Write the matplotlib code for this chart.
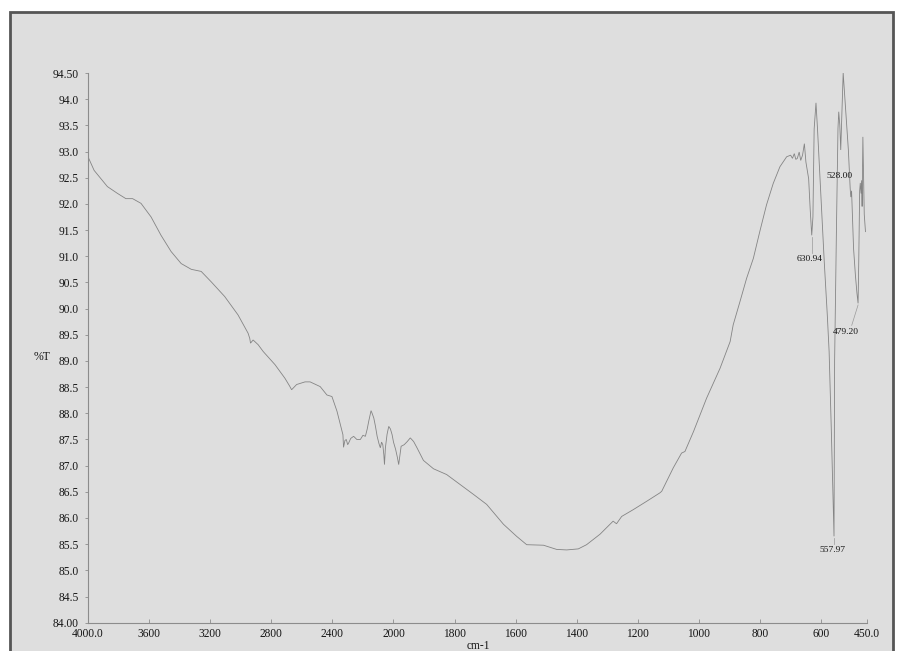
import numpy as np
import matplotlib
matplotlib.use("Agg")
import matplotlib.pyplot as plt
from matplotlib.patches import Rectangle
from matplotlib.ticker import FixedLocator, FixedFormatter

# FTIR transmission spectrum (wavenumber in cm-1, %T)
wavenumber = [
    4000, 3960, 3873, 3807, 3752, 3708, 3653, 3587, 3522, 3456, 3390, 3324,
    3259, 3193, 3105, 3018, 2952, 2941, 2936, 2919, 2886, 2853, 2776, 2711,
    2680, 2667, 2650, 2634, 2579, 2546, 2480, 2436, 2403, 2370, 2331, 2327,
    2318, 2309, 2300, 2294, 2280, 2261, 2240, 2217, 2200, 2184, 2172, 2162,
    2152, 2147, 2140, 2129, 2118, 2107, 2095, 2086, 2078, 2070, 2063, 2059,
    2053, 2042, 2031, 2020, 2009, 2000, 1993, 1987, 1983, 1979, 1975, 1965,
    1955, 1945, 1934, 1923, 1902, 1869, 1826, 1782, 1738, 1695, 1640, 1597,
    1564, 1509, 1466, 1433, 1395, 1368, 1324, 1281, 1270, 1253, 1215, 1171,
    1128, 1122, 1084, 1057, 1046, 1018, 975, 931, 898, 888, 866, 844, 822,
    801, 779, 757, 735, 713, 700, 694, 688, 683, 678, 672, 667, 661, 655,
    650, 641, 636, 630.94, 627, 623, 617, 612, 601, 590, 580, 574, 567, 562,
    557.97, 556, 550, 545, 542.5, 539, 536, 532, 528, 523, 517, 511, 505,
    503, 500.5, 494, 488, 483, 479.2, 477, 474, 472, 469.5, 467.5, 466,
    463.5, 461.5, 459, 455,
]
transmittance = [
    92.90, 92.64, 92.33, 92.20, 92.10, 92.10, 92.01, 91.75, 91.40, 91.09, 90.86, 90.75,
    90.71, 90.51, 90.23, 89.88, 89.53, 89.43, 89.34, 89.40, 89.31, 89.18, 88.93, 88.67,
    88.52, 88.45, 88.50, 88.55, 88.60, 88.60, 88.51, 88.35, 88.32, 88.04, 87.59, 87.35,
    87.48, 87.50, 87.40, 87.43, 87.52, 87.56, 87.50, 87.50, 87.58, 87.56, 87.70, 87.85,
    87.98, 88.05, 88.00, 87.91, 87.75, 87.56, 87.42, 87.34, 87.45, 87.40, 87.20, 87.02,
    87.34, 87.60, 87.75, 87.70, 87.59, 87.45, 87.31, 87.15, 87.02, 87.20, 87.37, 87.40,
    87.46, 87.53, 87.46, 87.34, 87.10, 86.94, 86.83, 86.64, 86.45, 86.26, 85.88, 85.65,
    85.49, 85.48, 85.40, 85.39, 85.41, 85.49, 85.69, 85.94, 85.89, 86.03, 86.16, 86.32,
    86.48, 86.51, 86.96, 87.24, 87.27, 87.65, 88.29, 88.86, 89.37, 89.69, 90.13, 90.58, 90.96,
    91.47, 91.98, 92.39, 92.71, 92.90, 92.93, 92.87, 92.96, 92.85, 92.87, 92.99, 92.83, 92.93, 93.15,
    92.80, 92.48, 91.90, 91.40, 91.75, 93.43, 93.93, 93.43, 92.17, 90.90, 89.88, 89.18, 87.72, 86.60,
    85.65, 89.00, 91.53, 93.44, 93.76, 93.50, 93.03, 93.80, 94.50, 94.07, 93.56, 93.03, 92.29,
    92.13, 92.25, 91.15, 90.64, 90.30, 90.10, 90.90, 92.25, 92.40, 92.20, 92.45, 91.95,
    93.28, 92.60, 91.80, 91.47,
]

x_ticks = [4000, 3600, 3200, 2800, 2400, 2000, 1800, 1600, 1400, 1200, 1000, 800, 600, 450]
x_tick_labels = ["4000.0", "3600", "3200", "2800", "2400", "2000", "1800", "1600",
                 "1400", "1200", "1000", "800", "600", "450.0"]
y_ticks = [94.5, 94.0, 93.5, 93.0, 92.5, 92.0, 91.5, 91.0, 90.5, 90.0, 89.5, 89.0,
           88.5, 88.0, 87.5, 87.0, 86.5, 86.0, 85.5, 85.0, 84.5, 84.0]
y_tick_labels = ["94.50", "94.0", "93.5", "93.0", "92.5", "92.0", "91.5", "91.0",
                 "90.5", "90.0", "89.5", "89.0", "88.5", "88.0", "87.5", "87.0",
                 "86.5", "86.0", "85.5", "85.0", "84.5", "84.00"]

peak_positions = [630.94, 557.97, 528.00, 479.20]
peak_labels = ["630.94", "557.97", "528.00", "479.20"]
# text anchor for each peak label (wavenumber, %T)
peak_text_pos = [(638, 90.94), (561.5, 85.38), (539, 92.54), (519, 89.56)]
peak_leaders = [True, True, False, True]

BG = "#dedede"
LINE = "#848484"
TXT = "#161616"
SERIF = ["Liberation Serif", "DejaVu Serif"]


def fwd(x):
    x = np.asarray(x, dtype=float)
    return np.where(x >= 2000, x, 2 * x - 2000)


def inv(y):
    y = np.asarray(y, dtype=float)
    return np.where(y >= 2000, y, (y + 2000) / 2)


W, H = 899, 651
fig = plt.figure(figsize=(W / 100, H / 100), dpi=100, facecolor="white")

# page frame, drawn beneath the axes
fig.patches.append(Rectangle((10 / W, -0.05), (893 - 10) / W, 1.05 - 12 / H,
                             transform=fig.transFigure, facecolor=BG,
                             edgecolor="#555555", linewidth=2, zorder=-10))

ax = fig.add_axes([88 / W, 1 - 622.7 / H, (867 - 88) / W, (622.7 - 73) / H])
ax.set_zorder(5)
ax.set_facecolor("none")
ax.set_xscale("function", functions=(fwd, inv))
ax.set_xlim(4000, 450)
ax.set_ylim(84.0, 94.5)

ax.plot(wavenumber, transmittance, color=LINE, lw=0.6, solid_joinstyle="miter")

for s in ("top", "right"):
    ax.spines[s].set_visible(False)
for s in ("left", "bottom"):
    ax.spines[s].set_color("#8c8c8c")
    ax.spines[s].set_linewidth(0.8)

ax.xaxis.set_major_locator(FixedLocator(x_ticks))
ax.xaxis.set_major_formatter(FixedFormatter(x_tick_labels))
ax.xaxis.set_minor_locator(FixedLocator([]))
ax.yaxis.set_major_locator(FixedLocator(y_ticks))
ax.yaxis.set_major_formatter(FixedFormatter(y_tick_labels))

ax.tick_params(axis="x", direction="in", length=3, width=0.6, color="#8c8c8c",
               pad=4, labelsize=8.3, labelcolor=TXT)
ax.tick_params(axis="y", direction="out", length=2.5, width=0.6, color="#8c8c8c",
               pad=4, labelsize=8.3, labelcolor=TXT)
for lab in ax.get_xticklabels() + ax.get_yticklabels():
    lab.set_fontfamily(SERIF)

fig.text(41.7 / W, 1 - 357 / H, "%T", ha="center", va="center",
         fontsize=8.5, color=TXT, family=SERIF, zorder=6)
fig.text(478 / W, 1 - 646 / H, "cm-1", ha="center", va="center",
         fontsize=8.3, color=TXT, family=SERIF, zorder=6)

wn_sorted = np.array(wavenumber)[::-1]
tr_sorted = np.array(transmittance)[::-1]
for pos, lab, (tx, ty), lead in zip(peak_positions, peak_labels, peak_text_pos, peak_leaders):
    ax.text(tx, ty, lab, ha="center", va="center", fontsize=6.8, color=TXT,
            family=SERIF)
    if lead:
        py = float(np.interp(pos, wn_sorted, tr_sorted))
        end_x = pos if abs(pos - tx) < 15 else 500
        ax.plot([pos, end_x], [py - 0.03, ty + 0.12], color="#9a9a9a", lw=0.5)

fig.savefig("out.png", dpi=100, facecolor="white")
